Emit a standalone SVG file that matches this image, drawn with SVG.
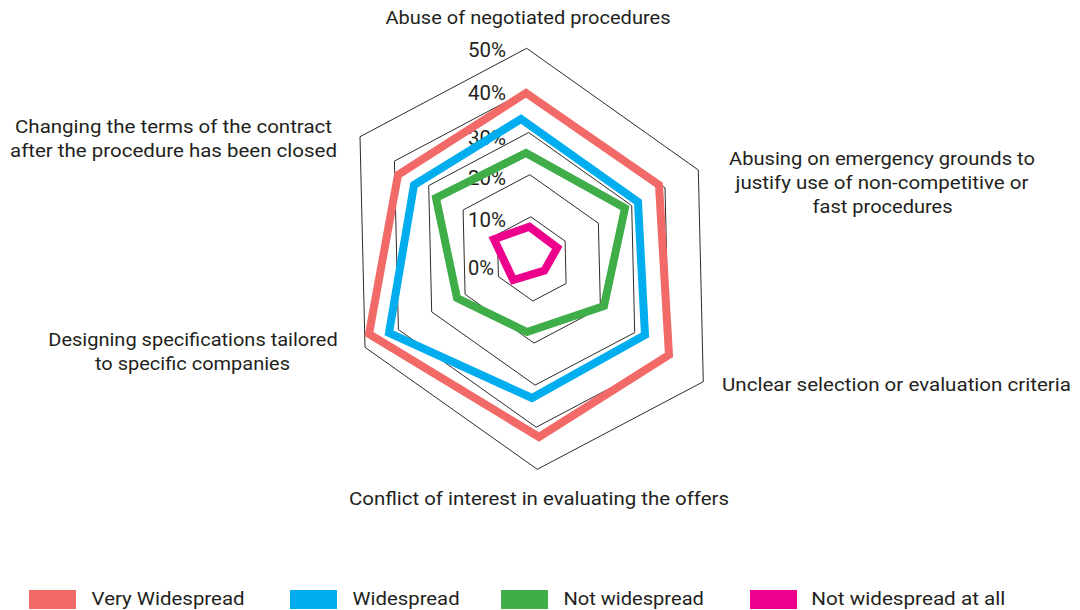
<svg xmlns="http://www.w3.org/2000/svg" width="1080" height="610" viewBox="0 0 1080 610">
<style>
.grid{fill:none;stroke:#2b2b2b;stroke-width:1}
.s{fill:none;stroke-linejoin:miter;stroke-width:8}
.lbl{font-family:Roboto,"Liberation Sans",sans-serif;font-size:19px;fill:#231f20}
.pct{font-family:Roboto,"Liberation Sans",sans-serif;font-size:21px;fill:#231f20}
</style>
<rect width="1080" height="610" fill="#ffffff"/>
<g id="grid">
<polygon class="grid" points="526.7,48.3 698.3,170.0 703.3,381.7 537.3,469.3 365.0,347.3 360.0,136.7"/>
<polygon class="grid" points="527.7,90.4 665.0,187.8 669.0,357.1 536.2,427.2 398.4,329.6 394.4,161.1"/>
<polygon class="grid" points="528.7,132.5 631.7,205.6 634.7,332.6 535.1,385.1 431.7,311.9 428.7,185.6"/>
<polygon class="grid" points="529.8,174.7 598.4,223.3 600.4,308.0 534.0,343.1 465.1,294.3 463.1,210.0"/>
<polygon class="grid" points="530.8,216.8 565.1,241.1 566.1,283.5 532.9,301.0 498.4,276.6 497.4,234.5"/>
</g>
<g id="scale">
<text class="pct" x="468" y="57" textLength="38" lengthAdjust="spacingAndGlyphs">50%</text>
<text class="pct" x="468" y="100" textLength="38" lengthAdjust="spacingAndGlyphs">40%</text>
<text class="pct" x="468" y="145" textLength="38" lengthAdjust="spacingAndGlyphs">30%</text>
<text class="pct" x="468" y="185" textLength="38" lengthAdjust="spacingAndGlyphs">20%</text>
<text class="pct" x="468" y="227" textLength="38" lengthAdjust="spacingAndGlyphs">10%</text>
<text class="pct" x="468" y="275" textLength="26" lengthAdjust="spacingAndGlyphs">0%</text>
</g>
<g id="series">
<polygon id="very-widespread" class="s" stroke="#f26a67" points="526,93 659,185 669,355 539,437 369,334 398,175"/>
<polygon id="widespread" class="s" stroke="#00aeef" points="521,119 638,202 645,335 532,398 389,333 414,185"/>
<polygon id="not-widespread" class="s" stroke="#3fae49" stroke-width="7" points="526,153 625,208 604,306 527,332 457,298 436,198"/>
<polygon id="not-widespread-at-all" class="s" stroke="#ec008c" stroke-width="7" points="529.3,226.7 557.3,247.7 544.3,270.7 513.3,280 494,239.3"/>
</g>
<g id="axis-labels">
<text class="lbl" x="528" y="24" text-anchor="middle" textLength="285" lengthAdjust="spacingAndGlyphs">Abuse of negotiated procedures</text>
<text class="lbl" x="173.5" y="133" text-anchor="middle" textLength="317" lengthAdjust="spacingAndGlyphs">Changing the terms of the contract</text>
<text class="lbl" x="173.5" y="157" text-anchor="middle" textLength="327" lengthAdjust="spacingAndGlyphs">after the procedure has been closed</text>
<text class="lbl" x="882" y="165" text-anchor="middle" textLength="306" lengthAdjust="spacingAndGlyphs">Abusing on emergency grounds to</text>
<text class="lbl" x="882" y="189" text-anchor="middle" textLength="293" lengthAdjust="spacingAndGlyphs">justify use of non-competitive or</text>
<text class="lbl" x="882.6" y="213" text-anchor="middle" textLength="140" lengthAdjust="spacingAndGlyphs">fast procedures</text>
<text class="lbl" x="193" y="346" text-anchor="middle" textLength="289.5" lengthAdjust="spacingAndGlyphs">Designing specifications tailored</text>
<text class="lbl" x="192.5" y="370" text-anchor="middle" textLength="195" lengthAdjust="spacingAndGlyphs">to specific companies</text>
<text class="lbl" x="722" y="391" textLength="349" lengthAdjust="spacingAndGlyphs">Unclear selection or evaluation criteria</text>
<text class="lbl" x="539" y="505" text-anchor="middle" textLength="380" lengthAdjust="spacingAndGlyphs">Conflict of interest in evaluating the offers</text>
</g>
<g id="legend">
<rect x="29" y="590" width="47" height="19" fill="#f26a67"/>
<text class="lbl" x="91.6" y="605" textLength="153" lengthAdjust="spacingAndGlyphs">Very Widespread</text>
<rect x="290" y="590" width="47" height="19" fill="#00aeef"/>
<text class="lbl" x="352.6" y="605" textLength="107" lengthAdjust="spacingAndGlyphs">Widespread</text>
<rect x="501" y="590" width="47" height="19" fill="#3fae49"/>
<text class="lbl" x="563.4" y="605" textLength="140.5" lengthAdjust="spacingAndGlyphs">Not widespread</text>
<rect x="750" y="590" width="47" height="19" fill="#ec008c"/>
<text class="lbl" x="811.3" y="605" textLength="194" lengthAdjust="spacingAndGlyphs">Not widespread at all</text>
</g>
</svg>
